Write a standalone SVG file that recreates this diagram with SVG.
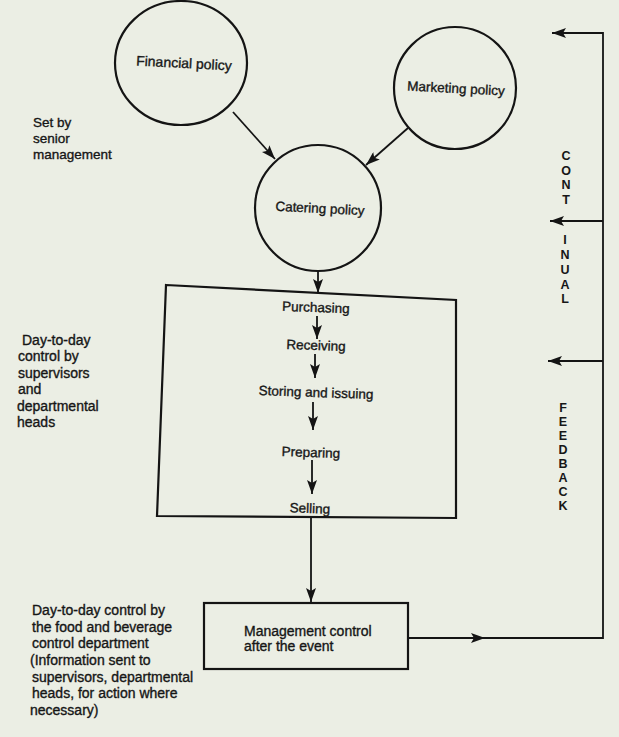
<svg xmlns="http://www.w3.org/2000/svg" width="619" height="737" viewBox="0 0 619 737">
  <style>
    .t { font-family: "Liberation Sans", Arial, sans-serif; font-size: 14px; fill: #161616; stroke: #161616; stroke-width: 0.35; }
    .s { font-size: 13.5px; }
    .v { font-family: "Liberation Sans", Arial, sans-serif; font-size: 12.5px; font-weight: bold; fill: #161616; text-anchor: middle; }
    .shape { fill: none; stroke: #141414; stroke-width: 2.2; }
    .conn { fill: none; stroke: #141414; stroke-width: 1.8; }
    .mid { text-anchor: middle; }
  </style>
  <defs>
    <marker id="arrow" markerUnits="userSpaceOnUse" markerWidth="15" markerHeight="10" refX="14" refY="5" orient="auto">
      <path d="M0,0 L14,5 L0,10 L3,5 z" fill="#141414"/>
    </marker>
  </defs>

  <rect x="0" y="0" width="619" height="737" fill="#ebeee4"/>

  <g id="financial-policy">
    <ellipse class="shape" cx="181" cy="63" rx="66" ry="62"/>
    <text class="t mid" x="184" y="68" transform="rotate(3 184 63)">Financial policy</text>
  </g>

  <g id="marketing-policy">
    <circle class="shape" cx="455" cy="88" r="61"/>
    <text class="t s mid" x="456" y="93" transform="rotate(3 456 88)">Marketing policy</text>
  </g>

  <g id="catering-policy">
    <circle class="shape" cx="318" cy="208" r="63"/>
    <text class="t s mid" x="320" y="213" transform="rotate(3 320 208)">Catering policy</text>
  </g>

  <g id="set-by-senior">
    <text class="t s" x="33" y="127">Set by</text>
    <text class="t s" x="33" y="143">senior</text>
    <text class="t s" x="33" y="159">management</text>
  </g>

  <g id="operations-box">
    <path class="shape" d="M166,285 L456,300 L456,518 L157,516 Z"/>
    <text class="t s mid" x="316" y="312" transform="rotate(2 316 307)">Purchasing</text>
    <text class="t s mid" x="316" y="350" transform="rotate(2 316 345)">Receiving</text>
    <text class="t s mid" x="316" y="397" transform="rotate(2 316 392)">Storing and issuing</text>
    <text class="t s mid" x="311" y="457" transform="rotate(2 311 452)">Preparing</text>
    <text class="t s mid" x="310" y="513" transform="rotate(2 310 508)">Selling</text>
  </g>

  <g id="day-to-day-supervisors">
    <text class="t" x="22" y="345">Day-to-day</text>
    <text class="t" x="18" y="361">control by</text>
    <text class="t" x="18" y="378">supervisors</text>
    <text class="t" x="18" y="394">and</text>
    <text class="t" x="17" y="411">departmental</text>
    <text class="t" x="17" y="427">heads</text>
  </g>

  <g id="management-control">
    <rect class="shape" x="204" y="603" width="204" height="66"/>
    <text class="t" x="244" y="636">Management control</text>
    <text class="t" x="244" y="651">after the event</text>
  </g>

  <g id="day-to-day-fb-control">
    <text class="t" x="32" y="615">Day-to-day control by</text>
    <text class="t" x="32" y="632">the food and beverage</text>
    <text class="t" x="32" y="648">control department</text>
    <text class="t" x="30" y="665">(Information sent to</text>
    <text class="t" x="32" y="682">supervisors, departmental</text>
    <text class="t" x="32" y="698">heads, for action where</text>
    <text class="t" x="30" y="715">necessary)</text>
  </g>

  <g id="feedback-label">
    <text class="v" x="566" y="160">C</text>
    <text class="v" x="566" y="175">O</text>
    <text class="v" x="566" y="189">N</text>
    <text class="v" x="566" y="204">T</text>
    <text class="v" x="565" y="244">I</text>
    <text class="v" x="565" y="259">N</text>
    <text class="v" x="565" y="274">U</text>
    <text class="v" x="565" y="289">A</text>
    <text class="v" x="565" y="303">L</text>
    <text class="v" x="563" y="412">F</text>
    <text class="v" x="563" y="426">E</text>
    <text class="v" x="563" y="440">E</text>
    <text class="v" x="563" y="454">D</text>
    <text class="v" x="563" y="468">B</text>
    <text class="v" x="563" y="482">A</text>
    <text class="v" x="563" y="496">C</text>
    <text class="v" x="563" y="510">K</text>
  </g>

  <g id="connectors">
    <path class="conn" d="M233,112 L275,159" marker-end="url(#arrow)"/>
    <path class="conn" d="M408,128 L366,165" marker-end="url(#arrow)"/>
    <path class="conn" d="M318,271 L318,293" marker-end="url(#arrow)"/>
    <path class="conn" d="M317,316 L317,339" marker-end="url(#arrow)"/>
    <path class="conn" d="M315,354 L315,378" marker-end="url(#arrow)"/>
    <path class="conn" d="M313,402 L313,430" marker-end="url(#arrow)"/>
    <path class="conn" d="M312,460 L312,494" marker-end="url(#arrow)"/>
    <path class="conn" d="M311,517 L311,602" marker-end="url(#arrow)"/>
    <path class="conn" d="M408,638 L485,638" marker-end="url(#arrow)"/>
    <path class="conn" d="M481,638 L603,638 L603,32"/>
    <path class="conn" d="M603,33 L552,33" marker-end="url(#arrow)"/>
    <path class="conn" d="M603,221 L550,221" marker-end="url(#arrow)"/>
    <path class="conn" d="M603,361 L548,361" marker-end="url(#arrow)"/>
  </g>
</svg>
